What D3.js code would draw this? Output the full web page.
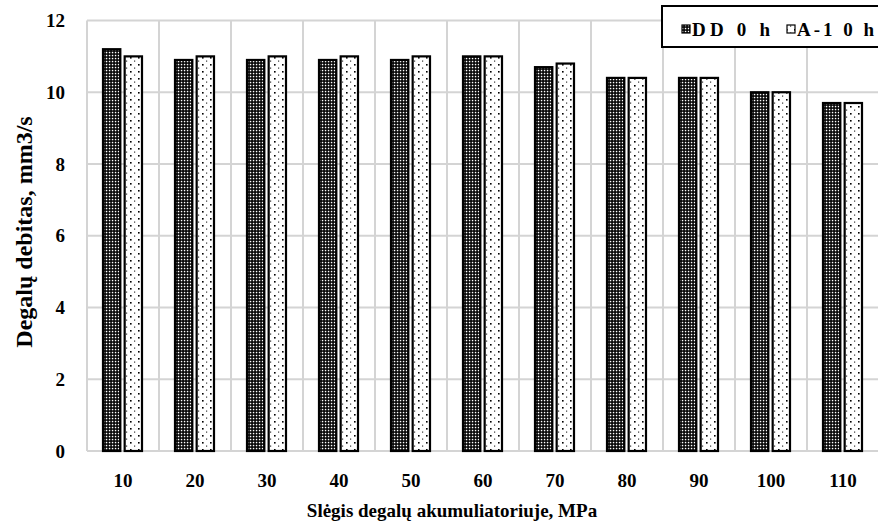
<!DOCTYPE html>
<html>
<head>
<meta charset="utf-8">
<script src="https://cdn.jsdelivr.net/npm/d3@7/dist/d3.min.js"></script>
<style>
  body { margin: 0; background: #fff; font-family: 'Liberation Serif'; }
</style>
</head>
<body>
<div id="chart"></div>
<script>
// data
var categories = ['10', '20', '30', '40', '50', '60', '70', '80', '90', '100', '110'];
var seriesNames = ['DD 0 h', 'A-1 0 h'];
var ddValues = [11.2, 10.9, 10.9, 10.9, 10.9, 11.0, 10.7, 10.4, 10.4, 10.0, 9.7];
var a1Values = [11.0, 11.0, 11.0, 11.0, 11.0, 11.0, 10.8, 10.4, 10.4, 10.0, 9.7];
var yTicks = [0, 2, 4, 6, 8, 10, 12];

var width = 878, height = 526;
var plot = {left: 87, right: 879, top: 20.5, bottom: 451};

var svg = d3.select('#chart').append('svg')
    .attr('width', width).attr('height', height);

// fill patterns
var defs = svg.append('defs');
var pDD = defs.append('pattern').attr('id', 'pDD')
    .attr('patternUnits', 'userSpaceOnUse').attr('width', 3).attr('height', 3);
pDD.append('rect').attr('width', 3).attr('height', 3).attr('fill', '#000');
pDD.append('rect').attr('x', 0.8).attr('y', 0.8).attr('width', 1.5).attr('height', 1.5).attr('fill', '#fff');

var pA = defs.append('pattern').attr('id', 'pA')
    .attr('patternUnits', 'userSpaceOnUse').attr('width', 8).attr('height', 7);
pA.append('rect').attr('width', 8).attr('height', 7).attr('fill', '#fff');
pA.append('rect').attr('x', 2).attr('y', 1).attr('width', 1.6).attr('height', 1.6).attr('fill', '#000');
pA.append('rect').attr('x', 6).attr('y', 4.5).attr('width', 1.2).attr('height', 1.2).attr('fill', '#333');

var fills = ['url(#pDD)', 'url(#pA)'];

// scales
var x = d3.scaleBand().domain(categories).range([plot.left, plot.right]);
var x1 = d3.scaleBand().domain(seriesNames).range([16, 55]).paddingInner(0.2);
var y = d3.scaleLinear().domain([0, 12]).range([plot.bottom, plot.top]);

// grid
var grid = svg.append('g');
grid.selectAll('.hg').data(yTicks).enter().append('line')
    .attr('x1', plot.left).attr('x2', plot.right)
    .attr('y1', function(d) { return y(d); }).attr('y2', function(d) { return y(d); })
    .attr('stroke', '#d4d4d4').attr('stroke-width', 2);
grid.selectAll('.vg').data(categories).enter().append('line')
    .attr('x1', function(d) { return x(d); }).attr('x2', function(d) { return x(d); })
    .attr('y1', plot.top).attr('y2', plot.bottom)
    .attr('stroke', '#d4d4d4').attr('stroke-width', 2);

// bars
var allSeries = [ddValues, a1Values];
allSeries.forEach(function(vals, si) {
    svg.append('g').selectAll('rect').data(vals).enter().append('rect')
        .attr('x', function(d, i) { return x(categories[i]) + x1(seriesNames[si]); })
        .attr('y', function(d) { return y(d); })
        .attr('width', x1.bandwidth())
        .attr('height', function(d) { return y(0) - y(d); })
        .attr('fill', fills[si])
        .attr('stroke', '#000').attr('stroke-width', 2.2);
});

// y axis labels (baseline shifted by hand, no dy)
svg.append('g').selectAll('text').data(yTicks).enter().append('text')
    .style('font-family', "'Liberation Serif'").style('font-weight', 'bold').style('font-size', '19px')
    .attr('x', 65).attr('y', function(d) { return y(d) + 6.5; })
    .attr('text-anchor', 'end')
    .text(function(d) { return d; });

// x axis labels
svg.append('g').selectAll('text').data(categories).enter().append('text')
    .style('font-family', "'Liberation Serif'").style('font-weight', 'bold').style('font-size', '19px')
    .attr('x', function(d) { return x(d) + x.bandwidth() / 2; })
    .attr('y', 486.5).attr('text-anchor', 'middle')
    .text(function(d) { return d; });

// axis titles
svg.append('text')
    .style('font-family', "'Liberation Serif'").style('font-weight', 'bold').style('font-size', '19px')
    .attr('x', 452).attr('y', 516.5).attr('text-anchor', 'middle')
    .text('Slėgis degalų akumuliatoriuje, MPa');
svg.append('text')
    .style('font-family', "'Liberation Serif'").style('font-weight', 'bold').style('font-size', '24px')
    .attr('transform', 'translate(32,232) rotate(-90)')
    .attr('text-anchor', 'middle')
    .text('Degalų debitas, mm3/s');

// legend
var lg = svg.append('g');
lg.append('rect').attr('x', 662).attr('y', 6).attr('width', 225).attr('height', 41)
    .attr('fill', '#fff').attr('stroke', '#000').attr('stroke-width', 2);
var legX = [682, 787], legW = [78, 77];
seriesNames.forEach(function(name, i) {
    lg.append('rect').attr('x', legX[i]).attr('y', 25).attr('width', 8).attr('height', 8)
        .attr('fill', fills[i]).attr('stroke', '#000').attr('stroke-width', 1.2);
    lg.append('text')
        .style('font-family', "'Liberation Serif'").style('font-weight', 'bold').style('font-size', '19px')
        .attr('x', legX[i] + 10).attr('y', 35.5)
        .attr('textLength', legW[i]).attr('lengthAdjust', 'spacing')
        .text(name);
});
</script>
</body>
</html>
